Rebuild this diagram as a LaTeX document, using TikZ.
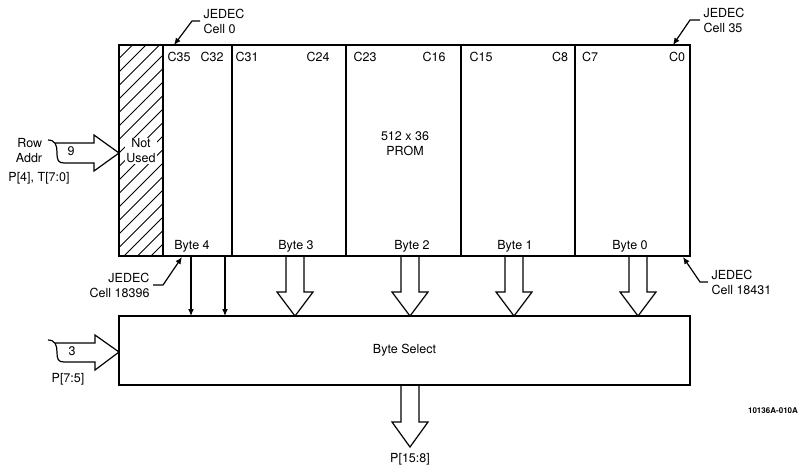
\documentclass[tikz,border=0pt]{standalone}
\usepackage{fontspec}
\setmainfont{TeX Gyre Heros}
\usetikzlibrary{arrows.meta}

\begin{document}
\begin{tikzpicture}[x=1pt,y=-1pt,
    font=\fontsize{12.5}{15}\selectfont,
    >={Latex[length=7pt,width=6pt]},
    box/.style={draw,line width=1.4pt,inner sep=0pt,outer sep=0pt},
    bus/.style={draw,line width=1.2pt,line join=miter},
    wire/.style={draw,line width=1.2pt,->},
    leader/.style={draw,line width=1.2pt,->}]
\useasboundingbox (0,0) rectangle (799,467);

% array and byte select
\node[box,minimum width=571pt,minimum height=211pt] (prom) at (404.5,150.5) {};
\node[box,minimum width=571pt,minimum height=69pt] (bsel) at (404.5,350.5) {Byte Select};

% not used column
\begin{scope}
    \clip (prom.north west) rectangle (163,256);
    \foreach \k in {0,...,19}
        \draw[line width=0.9pt] (119,{45+13.5*\k}) -- ++(60,-60);
\end{scope}
\foreach \dx in {163,232,346,461,575} {
    \path (\dx,0) coordinate (d);
    \draw[line width=1.4pt] (d |- prom.north) -- (d |- prom.south);
}
\node[fill=white,inner sep=1pt,align=center] (notused) at (141,151) {Not\\Used};

\foreach \t/\x in {C35/179,C32/212,C31/247,C24/318,C23/365,C16/434,C15/481,C8/560,C7/590,C0/677}
    \node (\t) at (\x,57) {\t};
\foreach \n/\x in {4/192,3/296,2/412,1/515,0/630}
    \node (byte\n) at (\x,246) {Byte \n};
\node[align=center] (promtxt) at (405,144) {512 x 36\\PROM};

% byte paths
\foreach \wx in {191,225} {
    \path (\wx,0) coordinate (w);
    \draw[wire] (w |- prom.south) -- (w |- bsel.north);
}
\foreach \bx in {295,410,514,638} {
    \path (\bx,0) coordinate (b);
    \draw[bus] (b |- prom.south) ++(-9,0) -- ++(0,36) -- ++(-9,0) -- (b |- bsel.north)
        -- ++(18,-24) -- ++(-9,0) -- ++(0,-36);
}
\path (410,0) coordinate (o);
\draw[bus] (o |- bsel.south) ++(-9,0) -- ++(0,37) -- ++(-9,0) -- ++(18,25)
    -- ++(18,-25) -- ++(-9,0) -- ++(0,-37);
\node (pout) at (410,459) {P[15:8]};

% row address
\coordinate (ra) at (119,153);
\draw[bus] (48,140) .. controls (55,140) and (57,145) .. (57,152)
    .. controls (57,160) and (58,163) .. (64,163) -- (94,163) -- (94,171)
    -- (ra) -- (94,135) -- (94,143) -- (55,143);
\node[align=right] (rowaddr) at (29,151) {Row\\Addr};
\node (rowbits) at (71,151) {9};
\node (rowsrc) at (39,178) {P[4], T[7:0]};

% byte address
\coordinate (pa) at (119,352);
\draw[bus] (48,340) .. controls (55,340) and (57,345) .. (57,352)
    .. controls (57,359) and (58,362) .. (64,362) -- (95,362) -- (95,370)
    -- (pa) -- (95,335) -- (95,343) -- (55,343);
\node (selbits) at (72,351) {3};
\node (selsrc) at (68,379) {P[7:5]};

% jedec cells
\coordinate (cell0) at (174,45);
\coordinate (cell35) at (673,45);
\coordinate (cell18396) at (182,257);
\coordinate (cell18431) at (683,257);
\node[align=left,anchor=west] (jc0) at (200,21) {JEDEC\\Cell 0};
\node[align=left,anchor=west] (jc35) at (700,20) {JEDEC\\Cell 35};
\node[align=right,anchor=east] (jc18396) at (153,285) {JEDEC\\Cell 18396};
\node[align=left,anchor=west] (jc18431) at (708,282) {JEDEC\\Cell 18431};
\draw[leader] (jc0.west) -- ++(-8,0) -- (cell0);
\draw[leader] (jc35.west) -- ++(-10,0) -- (cell35);
\draw[leader] (jc18396.east) -- ++(10,0) -- (cell18396);
\draw[leader] (jc18431.west) -- ++(-8,0) -- (cell18431);

\node[font=\fontsize{8}{9}\selectfont\bfseries] (figid) at (773,411) {10136A-010A};
\end{tikzpicture}
\end{document}
